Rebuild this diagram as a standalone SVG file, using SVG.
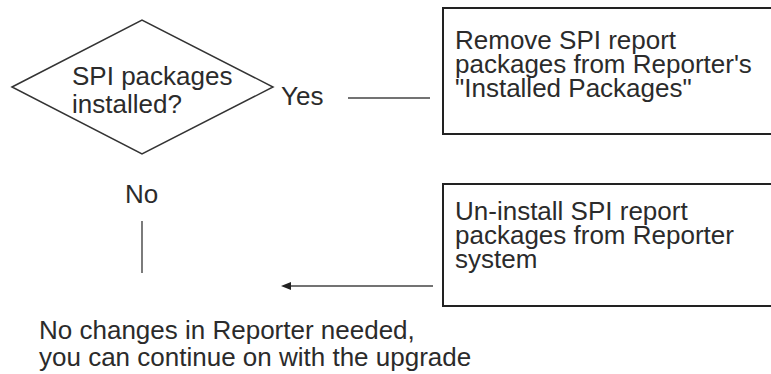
<svg xmlns="http://www.w3.org/2000/svg" width="771" height="374" viewBox="0 0 771 374">
<style>
text{font-family:"Liberation Sans",Arial,sans-serif;font-size:26px;fill:#2b2b2b}
.shape{fill:#fff;stroke:#333;stroke-width:1.5}
.box{fill:#fff;stroke:#222;stroke-width:2}
.conn{stroke:#444;stroke-width:1.4;fill:none}
</style>
<defs>
<marker id="ah" viewBox="0 0 10 10" refX="0" refY="5" markerWidth="11" markerHeight="10" markerUnits="userSpaceOnUse" orient="auto-start-reverse">
<path d="M0,1 L10,5 L0,9 z" fill="#222"/>
</marker>
</defs>
<rect width="771" height="374" fill="#fff"/>
<g id="decision">
<polygon class="shape" points="12,87 142,20 273,87 142,154"/>
<text x="72" y="85">SPI packages<tspan x="72" y="113">installed?</tspan></text>
</g>
<g id="remove">
<rect class="box" x="443" y="8" width="340" height="126"/>
<text x="455" y="49">Remove SPI report<tspan x="455" y="73">packages from Reporter's</tspan><tspan x="455" y="97">"Installed Packages"</tspan></text>
</g>
<g id="uninstall">
<rect class="box" x="443" y="184" width="340" height="122"/>
<text x="455" y="220">Un-install SPI report<tspan x="455" y="244">packages from Reporter</tspan><tspan x="455" y="268">system</tspan></text>
</g>
<g id="done">
<text x="39" y="339">No changes in Reporter needed,<tspan x="39" y="366">you can continue on with the upgrade</tspan></text>
</g>
<g id="connectors">
<text x="281" y="105">Yes</text>
<line class="conn" x1="348" y1="98" x2="430" y2="98"/>
<text x="125" y="203">No</text>
<line class="conn" x1="142" y1="221" x2="142" y2="273"/>
<line class="conn" x1="433" y1="286" x2="291" y2="286" marker-end="url(#ah)"/>
</g>
</svg>
